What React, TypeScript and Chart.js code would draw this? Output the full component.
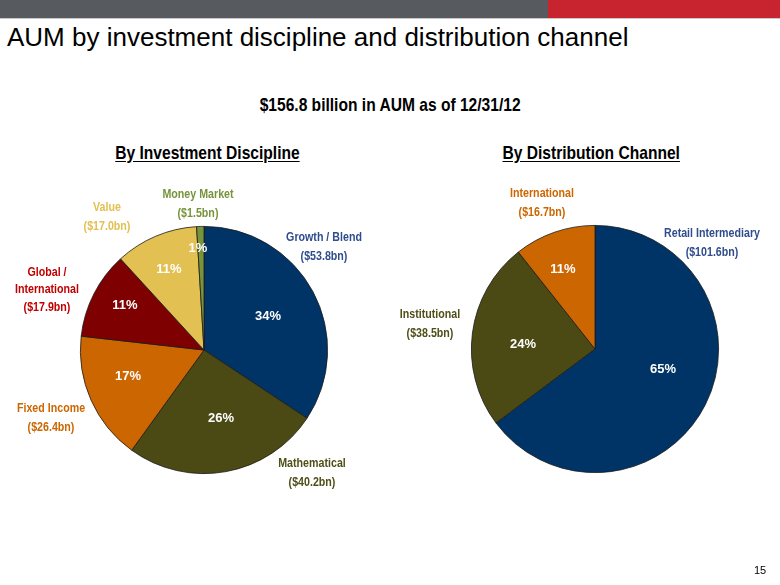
import { useEffect, useRef } from "react";
import { Chart, registerables } from "chart.js";

Chart.register(...registerables);

// ---- data ----
const disciplineLabels: string[][] = [
  ["Growth / Blend"],
  ["Mathematical"],
  ["Fixed Income"],
  ["Global /", "International"],
  ["Value"],
  ["Money Market"],
];
const disciplineValues = [53.8, 40.2, 26.4, 17.9, 17.0, 1.5];

const channelLabels: string[][] = [
  ["Retail Intermediary"],
  ["Institutional"],
  ["International"],
];
const channelValues = [101.6, 38.5, 16.7];

const titleText = "AUM by investment discipline and distribution channel";
const subtitleText = "$156.8 billion in AUM as of 12/31/12";
const leftHeading = "By Investment Discipline";
const rightHeading = "By Distribution Channel";
const pageNumber = "15";

// ---- styles / layout ----
const disciplineColors = ["#003366", "#4b4a15", "#cc6600", "#7f0000", "#e2c052", "#77933c"];
const disciplineTextColors = ["#2f4d8c", "#4f4f19", "#cc6600", "#c00000", "#e2c052", "#77933c"];
const channelColors = ["#003366", "#4b4a15", "#cc6600"];
const channelTextColors = ["#2f4d8c", "#4f4f19", "#cc6600"];

// offsets (px) relative to pie center
const disciplinePctPos = [[64, -34], [17, 68], [-76, 26], [-79, -45], [-35, -81], [-6, -102]];
const disciplineNamePos = [[120, -113], [108, 113], [-153, 58], [-157, -78], [-97, -143], [-6, -156]];
const channelPctPos = [[68, 20], [-72, -5], [-32, -80]];
const channelNamePos = [[117, -116], [-165, -35], [-53, -156]];

const NARROW = 0.82;

function roundPercents(values: number[]): number[] {
  const total = values.reduce((a, b) => a + b, 0);
  const raw = values.map((v) => (v / total) * 100);
  const fl = raw.map((r) => Math.floor(r));
  const rem = 100 - fl.reduce((a, b) => a + b, 0);
  const order = raw.map((r, i) => [r - Math.floor(r), i]).sort((a, b) => b[0] - a[0]);
  for (let k = 0; k < rem; k++) fl[order[k][1]] += 1;
  return fl;
}

function drawNarrow(ctx: CanvasRenderingContext2D, text: string, x: number, y: number, size: number, color: string) {
  ctx.save();
  ctx.translate(x, y);
  ctx.scale(NARROW, 1);
  ctx.font = `bold ${size}px "Liberation Sans", Arial, sans-serif`;
  ctx.fillStyle = color;
  ctx.textAlign = "center";
  ctx.textBaseline = "middle";
  ctx.fillText(text, 0, 0);
  ctx.restore();
}

const sliceLabelPlugin = {
  id: "sliceLabels",
  afterDatasetsDraw(chart: any, _args: any, opts: any) {
    const ctx: CanvasRenderingContext2D = chart.ctx;
    const meta = chart.getDatasetMeta(0);
    const values = chart.data.datasets[0].data as number[];
    const labels = chart.data.labels as string[][];
    const pcts = roundPercents(values);
    const arc0 = meta.data[0];
    const cx = arc0.x;
    const cy = arc0.y;
    values.forEach((v, i) => {
      const [px, py] = opts.pctPos[i];
      ctx.save();
      ctx.font = 'bold 13px "Liberation Sans", Arial, sans-serif';
      ctx.fillStyle = "#ffffff";
      ctx.textAlign = "center";
      ctx.textBaseline = "middle";
      ctx.fillText(`${pcts[i]}%`, cx + px, cy + py);
      ctx.restore();

      const [nx, ny] = opts.namePos[i];
      const lines = [...labels[i], `($${v.toFixed(1)}bn)`];
      const step = lines.length === 3 ? 17.5 : 19;
      lines.forEach((ln, j) => {
        drawNarrow(ctx, ln, cx + nx, cy + ny + j * step, 13, opts.textColors[i]);
      });
    });
  },
};

function makePie(canvas: HTMLCanvasElement, labels: string[][], values: number[], colors: string[], padding: any, pluginOpts: any) {
  return new Chart(canvas, {
    type: "pie",
    data: {
      labels,
      datasets: [
        {
          data: values,
          backgroundColor: colors,
          borderColor: "#1b1b1b",
          borderWidth: 0.8,
        },
      ],
    },
    options: {
      responsive: false,
      animation: false,
      events: [],
      layout: { padding },
      plugins: {
        legend: { display: false },
        tooltip: { enabled: false },
        sliceLabels: pluginOpts,
      } as any,
    },
    plugins: [sliceLabelPlugin as any],
  });
}

const narrowSpan: React.CSSProperties = {
  display: "inline-block",
  transform: `scaleX(${NARROW})`,
  transformOrigin: "center",
  whiteSpace: "nowrap",
};

export default function App() {
  const leftRef = useRef<HTMLCanvasElement>(null);
  const rightRef = useRef<HTMLCanvasElement>(null);

  useEffect(() => {
    const left = makePie(
      leftRef.current!,
      disciplineLabels,
      disciplineValues,
      disciplineColors,
      { left: 80, right: 452, top: 226, bottom: 111 },
      { pctPos: disciplinePctPos, namePos: disciplineNamePos, textColors: disciplineTextColors }
    );
    const right = makePie(
      rightRef.current!,
      channelLabels,
      channelValues,
      channelColors,
      { left: 471, right: 61, top: 225, bottom: 112 },
      { pctPos: channelPctPos, namePos: channelNamePos, textColors: channelTextColors }
    );
    return () => {
      left.destroy();
      right.destroy();
    };
  }, []);

  const font = '"Liberation Sans", Arial, sans-serif';

  return (
    <div
      style={{
        position: "fixed",
        left: 0,
        top: 0,
        width: 780,
        height: 585,
        background: "#ffffff",
        overflow: "hidden",
        fontFamily: font,
      }}
    >
      <div style={{ position: "absolute", left: 0, top: 0, width: 548, height: 18, background: "#575b5f" }} />
      <div style={{ position: "absolute", left: 548, top: 0, width: 232, height: 18, background: "#c8242f" }} />
      <div style={{ position: "absolute", left: 0, top: 18, width: 780, height: 1, background: "#c9c9c9" }} />

      <div
        style={{
          position: "absolute",
          left: 7,
          top: 22,
          fontSize: 26,
          lineHeight: "30px",
          color: "#000",
          whiteSpace: "nowrap",
        }}
      >
        {titleText}
      </div>

      <div
        style={{
          position: "absolute",
          left: 90,
          width: 600,
          top: 93,
          textAlign: "center",
          fontSize: 19,
          fontWeight: "bold",
          lineHeight: "24px",
          color: "#000",
        }}
      >
        <span style={narrowSpan}>{subtitleText}</span>
      </div>

      <div
        style={{
          position: "absolute",
          left: 7,
          width: 400,
          top: 141,
          textAlign: "center",
          fontSize: 19,
          fontWeight: "bold",
          lineHeight: "24px",
          color: "#000",
        }}
      >
        <span style={{ ...narrowSpan, textDecoration: "underline", textUnderlineOffset: 2 }}>{leftHeading}</span>
      </div>

      <div
        style={{
          position: "absolute",
          left: 391,
          width: 400,
          top: 141,
          textAlign: "center",
          fontSize: 19,
          fontWeight: "bold",
          lineHeight: "24px",
          color: "#000",
        }}
      >
        <span style={{ ...narrowSpan, textDecoration: "underline", textUnderlineOffset: 2 }}>{rightHeading}</span>
      </div>

      <canvas ref={leftRef} width={780} height={585} style={{ position: "absolute", left: 0, top: 0 }} />
      <canvas ref={rightRef} width={780} height={585} style={{ position: "absolute", left: 0, top: 0 }} />

      <div
        style={{
          position: "absolute",
          left: 740,
          width: 40,
          top: 563,
          textAlign: "center",
          fontSize: 11,
          lineHeight: "14px",
          color: "#000",
        }}
      >
        {pageNumber}
      </div>
    </div>
  );
}
